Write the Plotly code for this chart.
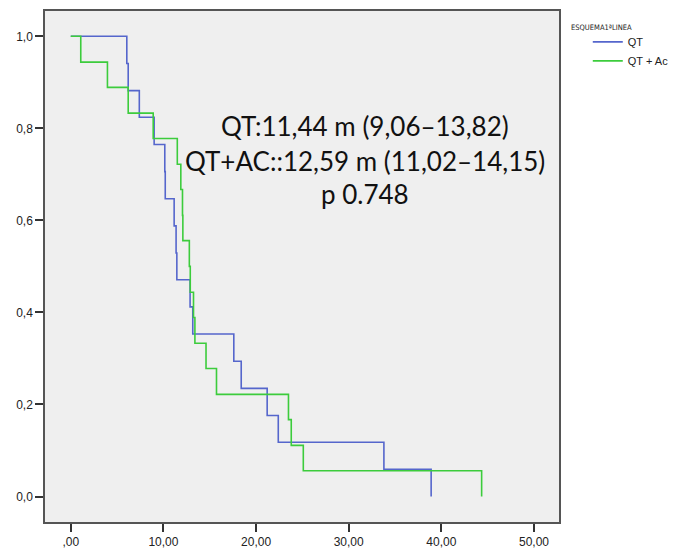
import plotly.graph_objects as go

# Kaplan-Meier step data
qt_time = [0, 6.05, 6.2, 7.4, 9.0, 10.15, 10.2, 11.16, 11.37, 11.45, 12.88, 13.17,
           17.6, 18.4, 21.2, 22.4, 33.8, 38.9]
qt_surv = [1.0, 0.941, 0.882, 0.824, 0.765, 0.706, 0.647, 0.588, 0.529, 0.471, 0.412,
           0.353, 0.294, 0.235, 0.176, 0.118, 0.059, 0.0]

qtac_time = [0, 1.08, 3.96, 6.2, 8.9, 11.5, 11.88, 12.06, 12.1, 12.8, 12.9, 13.25,
             13.4, 14.6, 15.73, 23.5, 23.8, 25.1, 44.35]
qtac_surv = [1.0, 0.944, 0.889, 0.833, 0.778, 0.722, 0.667, 0.611, 0.556, 0.5, 0.444,
             0.389, 0.333, 0.278, 0.222, 0.167, 0.111, 0.056, 0.0]

x_tickvals = [0, 10, 20, 30, 40, 50]
x_ticktext = [",00", "10,00", "20,00", "30,00", "40,00", "50,00"]
y_tickvals = [0.0, 0.2, 0.4, 0.6, 0.8, 1.0]
y_ticktext = ["0,0", "0,2", "0,4", "0,6", "0,8", "1,0"]

legend_title = "ESQUEMA1ªLINEA"
stats_lines = ["QT:11,44 m (9,06–13,82)", "QT+AC::12,59 m (11,02–14,15)", "p 0.748"]

fig = go.Figure()
fig.add_trace(go.Scatter(x=qt_time, y=qt_surv, mode="lines", name="QT",
                         line=dict(color="#5566cc", width=1.6, shape="hv")))
fig.add_trace(go.Scatter(x=qtac_time, y=qtac_surv, mode="lines", name="QT + Ac",
                         line=dict(color="#3ccc3c", width=1.6, shape="hv")))

axis_common = dict(showgrid=False, zeroline=False, showline=True, mirror=True,
                   linecolor="#555555", linewidth=1.5, ticks="outside", ticklen=8,
                   tickwidth=1.5, tickcolor="#333333",
                   tickfont=dict(family="Liberation Sans, Arial", size=12, color="#222222"))

fig.update_layout(
    width=695, height=548,
    margin=dict(l=37, r=144, t=1, b=34),
    paper_bgcolor="white", plot_bgcolor="#efefef",
    xaxis=dict(range=[-2.78, 52.7], tickvals=x_tickvals, ticktext=x_ticktext, **axis_common),
    yaxis=dict(range=[-0.0554, 1.055], tickvals=y_tickvals, ticktext=y_ticktext, **axis_common),
    showlegend=True,
    legend=dict(x=1.056, y=0.968, xanchor="left", yanchor="top",
                font=dict(family="Liberation Sans, Arial", size=11, color="#222222"),
                itemwidth=30, bgcolor="rgba(0,0,0,0)", tracegroupgap=0),
)

fig.add_annotation(text=legend_title, xref="paper", yref="paper", x=1.0194, y=0.968,
                   xanchor="left", yanchor="middle", showarrow=False,
                   font=dict(family="Liberation Sans Narrow, DejaVu Sans Condensed, Liberation Sans",
                             size=7.5, color="#222222"))

ys = [0.774, 0.706, 0.6416]
for txt, yy in zip(stats_lines, ys):
    fig.add_annotation(text=txt, x=0.623, xref="paper", y=yy, yref="paper",
                       xanchor="center", yanchor="middle", showarrow=False,
                       font=dict(family="Lato, Noto Sans", size=26, color="#111111"))

fig.write_html("out.html")
